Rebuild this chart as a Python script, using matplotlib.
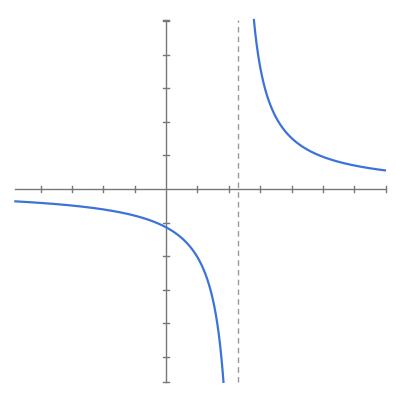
import numpy as np
import matplotlib
matplotlib.use('Agg')
from matplotlib import pyplot as plt

asym = 2.28
k = 2.6
xTicks = [-4, -3, -2, -1, 1, 2, 3, 4, 5, 6, 7]
yTicks = [-5, -4, -3, -2, -1, 1, 2, 3, 4, 5]
xRange = (-4.8, 6.97)
yRange = (-5.74, 5.03)

fig = plt.figure(figsize=(4, 4), dpi=100)
ax = fig.add_axes([0, 0, 1, 1])
ax.set_xlim(-5.29, 7.45)
ax.set_ylim(-6.28, 5.625)
ax.axis('off')

grey = '#777777'
ax.plot(xRange, [0, 0], color=grey, lw=1)
ax.plot([0, 0], yRange, color=grey, lw=1)
for t in xTicks:
    ax.plot([t, t], [-0.1, 0.1], color=grey, lw=1)
for t in yTicks + [yRange[0]]:
    ax.plot([-0.1, 0.1], [t, t], color=grey, lw=1)
ax.plot([-0.1, 0.1], [yRange[1], yRange[1]], color=grey, lw=1)

ax.plot([asym, asym], yRange, color='#999999', lw=1, ls=(0, (4, 3)))

blue = '#3b73d9'
xl = np.linspace(xRange[0], asym + k / yRange[0], 300)
ax.plot(xl, k / (xl - asym), color=blue, lw=1.6)
xr = np.linspace(asym + k / yRange[1], xRange[1], 300)
ax.plot(xr, k / (xr - asym), color=blue, lw=1.6)

fig.savefig('out.png')
